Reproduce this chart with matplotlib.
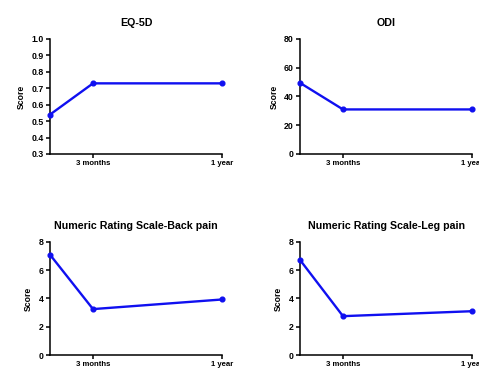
import numpy as np
import matplotlib
matplotlib.use('Agg')
import matplotlib.pyplot as plt

plt.rcParams['font.family'] = ['Liberation Sans', 'DejaVu Sans']
plt.rcParams['font.weight'] = 'bold'

# data (months after surgery: baseline, 3 months, 1 year)
months = [0, 3, 12]
tick_pos = [3, 12]
tick_labels = ['3 months', '1 year']

titles = ['EQ-5D', 'ODI', 'Numeric Rating Scale-Back pain', 'Numeric Rating Scale-Leg pain']
eq5d = [0.54, 0.73, 0.73]
odi = [49.5, 31, 31]
nrs_back = [7.1, 3.25, 3.93]
nrs_leg = [6.73, 2.75, 3.1]
series = [eq5d, odi, nrs_back, nrs_leg]

ylims = [(0.3, 1.0), (0, 80), (0, 8), (0, 8)]
yticks = [np.round(np.arange(0.3, 1.01, 0.1), 1), [0, 20, 40, 60, 80], [0, 2, 4, 6, 8], [0, 2, 4, 6, 8]]
yfmt = ['{:.1f}', '{:d}', '{:d}', '{:d}']

# axes boxes in figure fraction
boxes = [
    [0.1044, 0.5838, 0.3591, 0.3108],
    [0.6263, 0.5838, 0.3591, 0.3108],
    [0.1044, 0.0405, 0.3591, 0.3055],
    [0.6263, 0.0405, 0.3591, 0.3055],
]

fig = plt.figure(figsize=(4.79, 3.70), dpi=100)

for i in range(4):
    ax = fig.add_axes(boxes[i])
    ax.plot(months, series[i], color='#1010f0', lw=1.7, marker='o', ms=3.4, clip_on=False, zorder=3)
    ax.set_xlim(0, 12)
    ax.set_ylim(*ylims[i])
    ax.set_xticks(tick_pos)
    ax.set_xticklabels(tick_labels, fontsize=5.6, fontweight='bold')
    ax.set_yticks(yticks[i])
    ax.set_yticklabels([yfmt[i].format(v) for v in yticks[i]], fontsize=6.3, fontweight='bold')
    ax.set_ylabel('Score', fontsize=6.2, fontweight='bold', labelpad=4)
    ax.set_title(titles[i], fontsize=7.7, fontweight='bold', pad=9)
    for s in ['top', 'right']:
        ax.spines[s].set_visible(False)
    for s in ['left', 'bottom']:
        ax.spines[s].set_linewidth(1.1)
    ax.tick_params(width=1.1, length=3, pad=1.5)

fig.savefig('out.png', dpi=100)
